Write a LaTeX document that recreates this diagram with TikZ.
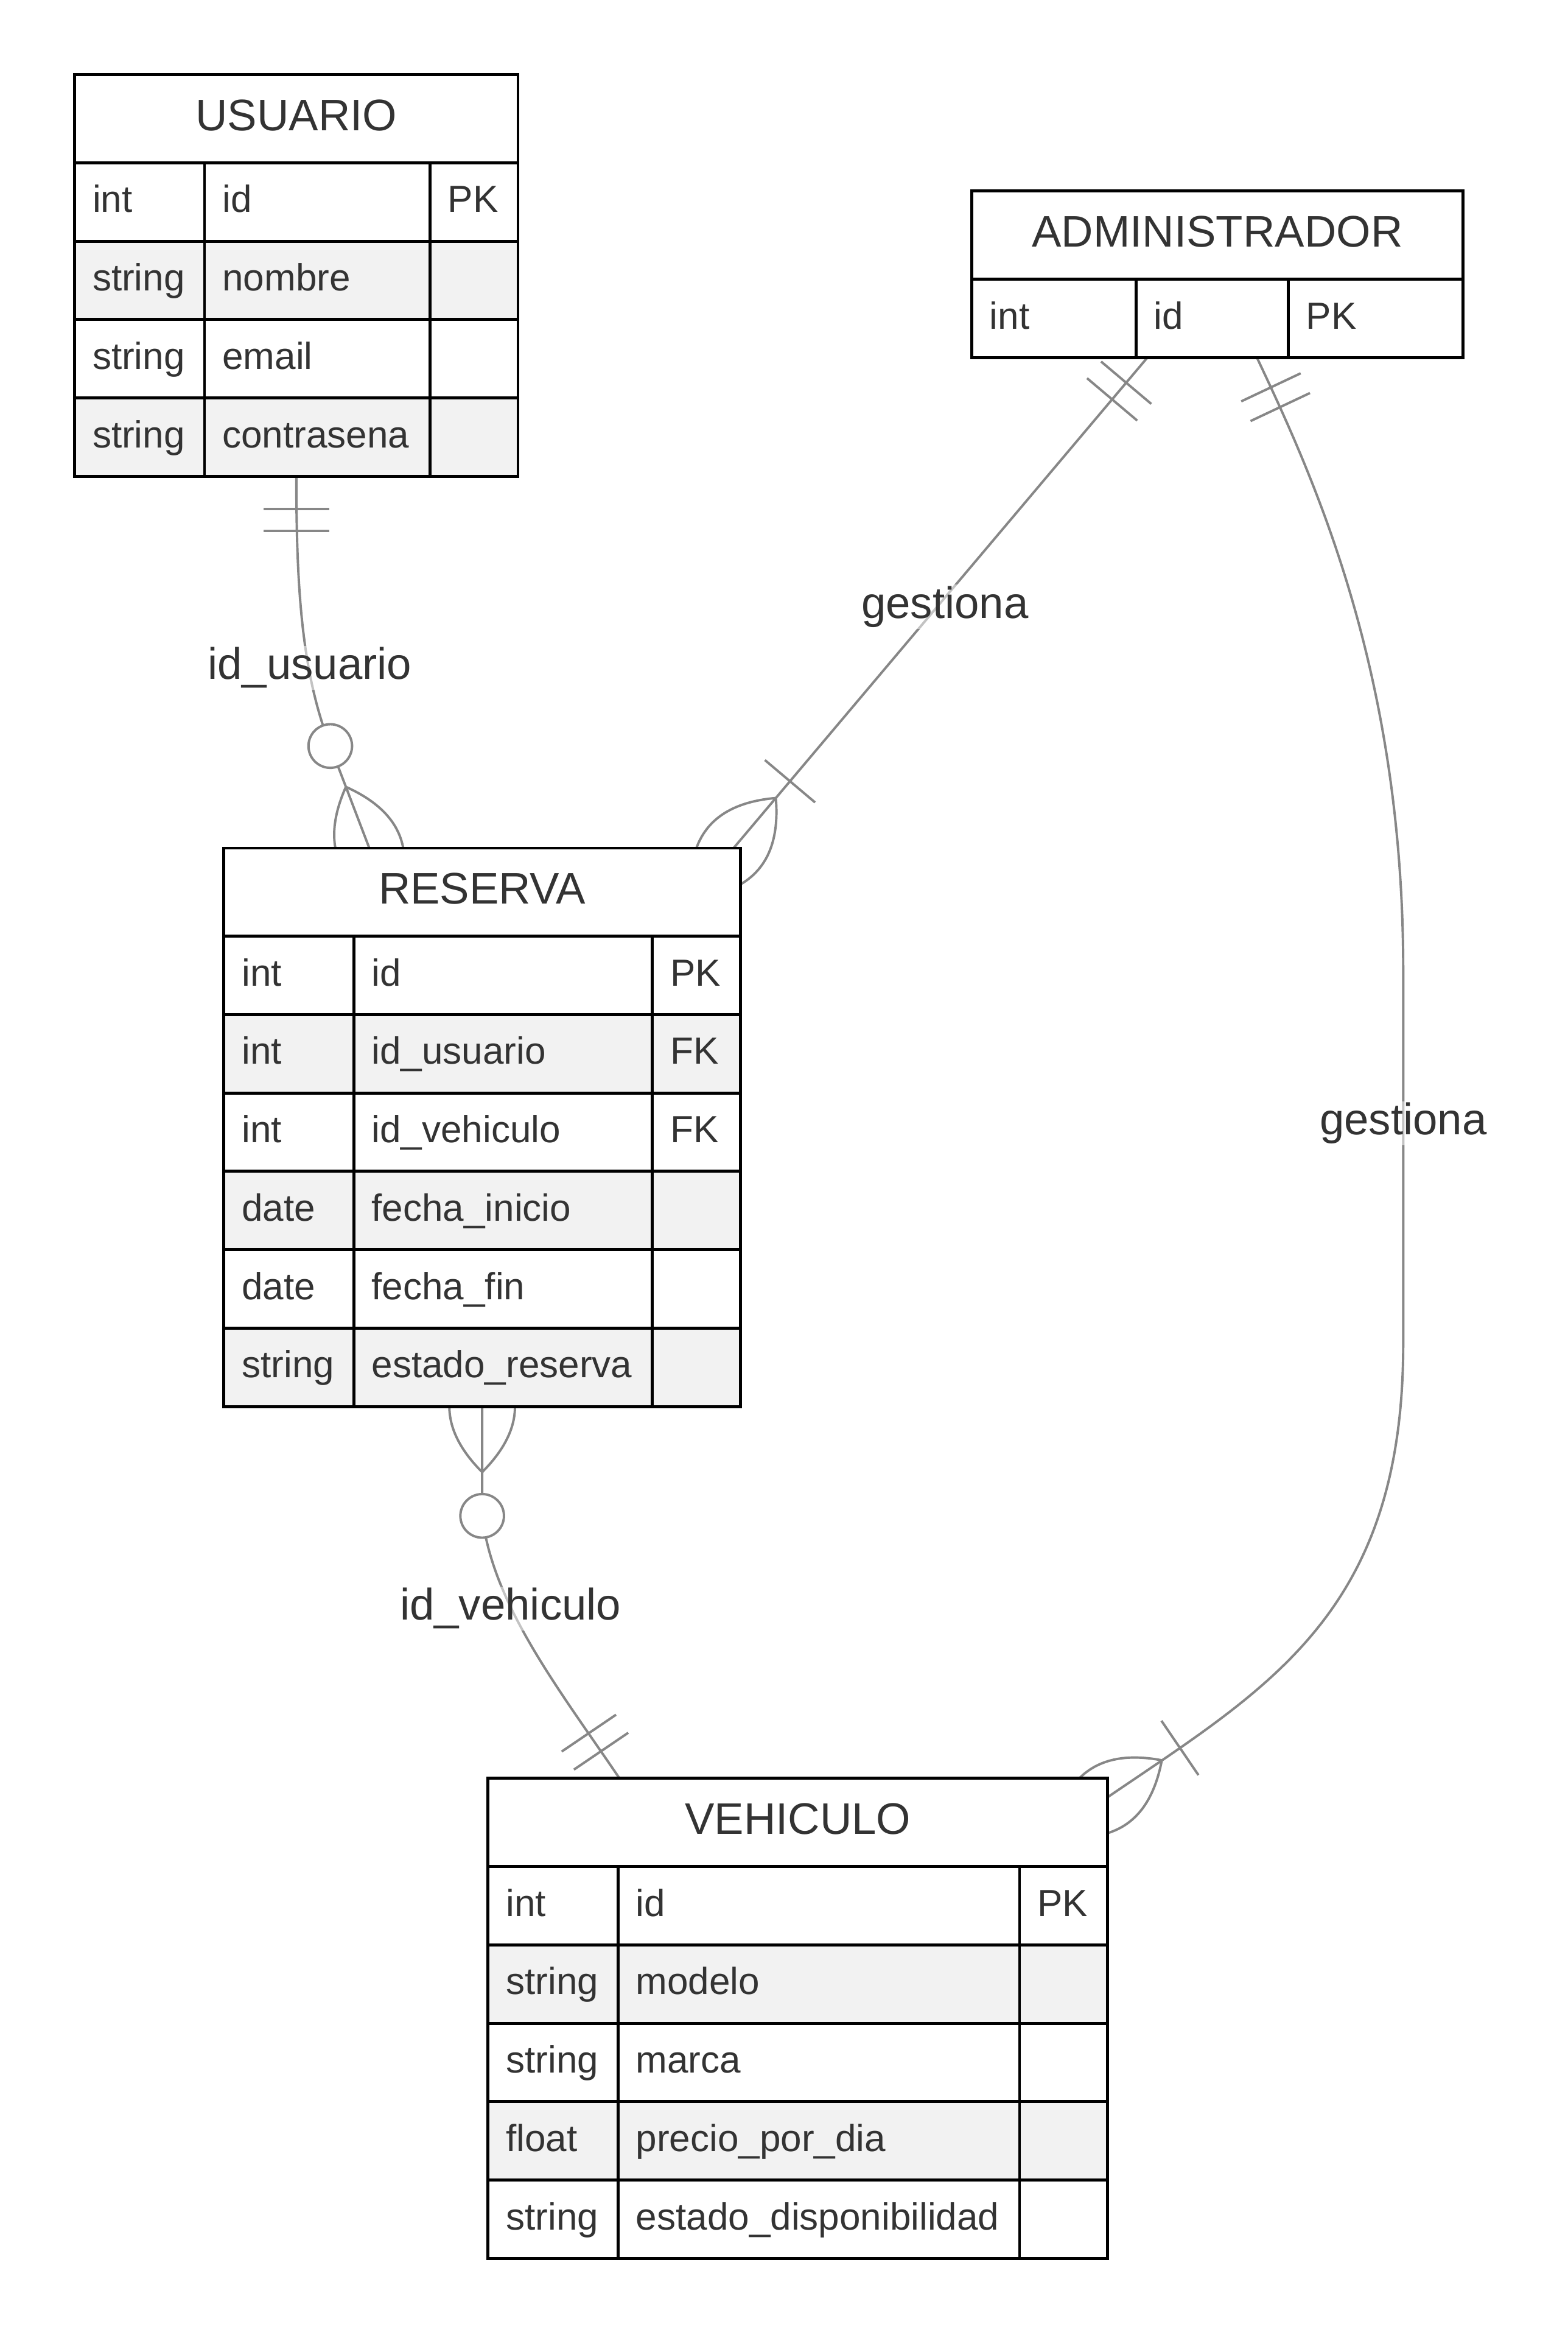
\documentclass[tikz,border=0pt]{standalone}
\usepackage{fontspec}
\setmainfont{Liberation Sans}
\usetikzlibrary{positioning,decorations.markings}

\definecolor{textgray}{HTML}{333333}
\definecolor{linegray}{HTML}{878787}
\definecolor{rowgray}{HTML}{F2F2F2}

\pgfdeclarelayer{connectors}
\pgfsetlayers{connectors,main}

\newcommand\titlesize{\fontsize{29.6pt}{35pt}\selectfont}
\newcommand\attrsize{\fontsize{25.3pt}{30pt}\selectfont}
\hyphenpenalty=10000

\begin{document}
\begin{tikzpicture}[x=1pt, y=-1pt,
    head/.style={draw, line width=2pt, fill=white, anchor=north west, inner sep=0pt, outer sep=0pt,
                 minimum height=59pt, font=\titlesize, text=textgray, text height=22pt, text depth=6pt},
    cell/.style={draw, line width=2pt, fill=white, anchor=north west, inner xsep=12pt, inner ysep=0pt,
                 outer sep=0pt, minimum height=52.5pt, align=left, font=\attrsize, text=textgray,
                 text height=19pt, text depth=5pt},
    frame/.style={draw, line width=2pt, anchor=north west, inner sep=0pt, outer sep=0pt},
    rel/.style={draw=linegray, line width=1.6pt},
    rel label/.style={font=\titlesize, text=textgray, fill=white, fill opacity=0.5,
                      text opacity=1, inner sep=1pt, anchor=base},
    one side/.style={postaction={decorate, decoration={markings, mark=at position 0 with
        {\draw[rel] (22,-22) -- (22,22) (36.6,-22) -- (36.6,22);}}}},
    zero many side/.style={postaction={decorate, decoration={markings, mark=at position 1 with
        {\draw[rel] (-43.9,0) .. controls (-14.6,-29.3) and (14.6,-29.3) .. (43.9,0)
                    .. controls (14.6,29.3) and (-14.6,29.3) .. (-43.9,0);
         \draw[rel, fill=white] (-73.2,0) circle[radius=14.6pt];}}}},
    one many side/.style={postaction={decorate, decoration={markings, mark=at position 1 with
        {\draw[rel] (-43.9,0) .. controls (-14.6,-29.3) and (14.6,-29.3) .. (43.9,0)
                    .. controls (14.6,29.3) and (-14.6,29.3) .. (-43.9,0);
         \draw[rel] (-58.6,-22) -- (-58.6,22);}}}}
  ]

% USUARIO
\node[head, minimum width=297pt] (usuario-h) at (50,50) {USUARIO};
\foreach \ty/\nm/\ky [count=\i] in {int/id/PK, string/nombre/{}, string/email/{}, string/contrasena/{}} {
  \ifodd\i \def\rowfill{white}\else \def\rowfill{rowgray}\fi
  \node[cell, fill=\rowfill, text width=63pt] (usuario-t\i) at (50,56.5+52.5*\i) {\ty};
  \node[cell, fill=\rowfill, text width=127pt, right=0pt of usuario-t\i] (usuario-n\i) {\nm};
  \node[cell, fill=\rowfill, text width=35pt, right=0pt of usuario-n\i] (usuario-k\i) {\ky};
}
\node[frame, minimum width=297pt, minimum height=269pt] (usuario) at (50,50) {};

% ADMINISTRADOR
\node[head, minimum width=329pt] (administrador-h) at (651,128) {ADMINISTRADOR};
\node[cell, text width=86pt] (administrador-t1) at (651,187) {int};
\node[cell, text width=78pt, right=0pt of administrador-t1] (administrador-n1) {id};
\node[cell, text width=93pt, right=0pt of administrador-n1] (administrador-k1) {PK};
\node[frame, minimum width=329pt, minimum height=111.5pt] (administrador) at (651,128) {};

% RESERVA
\node[head, minimum width=346pt] (reserva-h) at (150,568) {RESERVA};
\foreach \ty/\nm/\ky [count=\i] in {int/id/PK, int/id\_usuario/FK, int/id\_vehiculo/FK,
    date/fecha\_inicio/{}, date/fecha\_fin/{}, string/estado\_reserva/{}} {
  \ifodd\i \def\rowfill{white}\else \def\rowfill{rowgray}\fi
  \node[cell, fill=\rowfill, text width=63pt] (reserva-t\i) at (150,574.5+52.5*\i) {\ty};
  \node[cell, fill=\rowfill, text width=176pt, right=0pt of reserva-t\i] (reserva-n\i) {\nm};
  \node[cell, fill=\rowfill, text width=35pt, right=0pt of reserva-n\i] (reserva-k\i) {\ky};
}
\node[frame, minimum width=346pt, minimum height=374pt] (reserva) at (150,568) {};

% VEHICULO
\node[head, minimum width=415pt] (vehiculo-h) at (327,1191) {VEHICULO};
\foreach \ty/\nm/\ky [count=\i] in {int/id/PK, string/modelo/{}, string/marca/{},
    float/precio\_por\_dia/{}, string/estado\_disponibilidad/{}} {
  \ifodd\i \def\rowfill{white}\else \def\rowfill{rowgray}\fi
  \node[cell, fill=\rowfill, text width=63pt] (vehiculo-t\i) at (327,1197.5+52.5*\i) {\ty};
  \node[cell, fill=\rowfill, text width=245pt, right=0pt of vehiculo-t\i] (vehiculo-n\i) {\nm};
  \node[cell, fill=\rowfill, text width=35pt, right=0pt of vehiculo-n\i] (vehiculo-k\i) {\ky};
}
\node[frame, minimum width=415pt, minimum height=321.5pt] (vehiculo) at (327,1191) {};

% relations, under the tables
\begin{pgfonlayer}{connectors}
\fill[white] (0,0) rectangle (1050,1565.8);
\draw[rel, one side, zero many side] (usuario.south)
  .. controls (198.5,400) and (203,452) .. (221,499) -- ([xshift=97.4pt]reserva.north west);
\draw[rel, one side, one many side] ([xshift=117.6pt]administrador.south west)
  -- ([xshift=-4.6pt]reserva.north east);
\draw[rel, one side, one many side] ([xshift=191pt]administrador.south west)
  .. controls (880,320) and (940,450) .. (940,650) -- (940,900)
  .. controls (940,1080) and (850,1130) .. ([yshift=-12.6pt]vehiculo.north east);
\draw[rel, one side, zero many side] ([xshift=88pt]vehiculo.north west)
  .. controls (375,1132) and (330,1075) .. (323,1015) -- ([xshift=173pt]reserva.south west);
\end{pgfonlayer}

\node[rel label] (label-usuario) at (207.5,455) {id\_usuario};
\node[rel label] (label-gestiona-a) at (633,414) {gestiona};
\node[rel label] (label-gestiona-v) at (940,760) {gestiona};
\node[rel label] (label-vehiculo) at (342,1085) {id\_vehiculo};

\useasboundingbox (0,0) rectangle (1050,1565.8);
\end{tikzpicture}
\end{document}
